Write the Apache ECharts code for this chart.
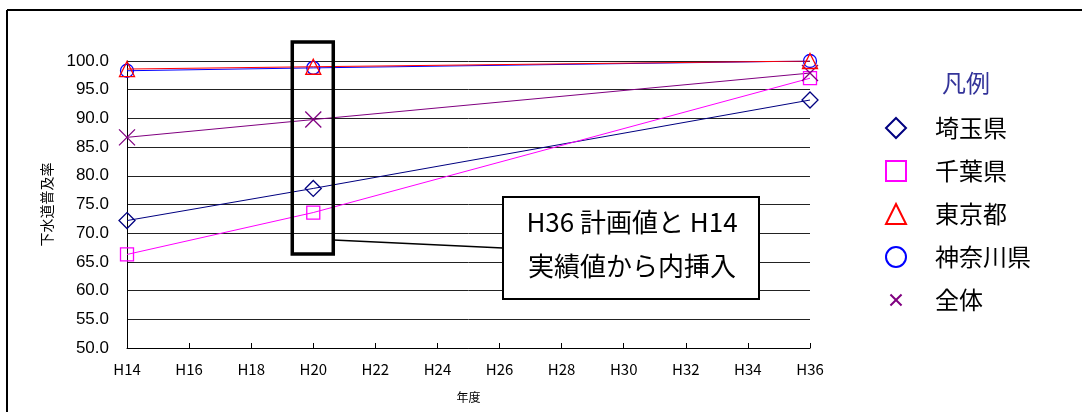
<!DOCTYPE html>
<html>
<head>
<meta charset="utf-8">
<script src="https://cdn.jsdelivr.net/npm/echarts@6/dist/echarts.min.js"></script>
<style>
  html, body { margin: 0; padding: 0; background: #fff; }
  #chart { width: 1082px; height: 412px; }
</style>
</head>
<body>
<div id="chart"></div>
<script>
// 年度 (平成) at which values are given
const years = [14, 20, 36];
// 下水道普及率 (%)
const saitama  = [72.2, 77.8, 93.2];
const chiba    = [66.3, 73.6, 97.0];
const tokyo    = [98.6, 99.0, 100.0];
const kanagawa = [98.3, 98.8, 100.0];
const zentai   = [86.7, 89.8, 97.9];
const seriesNames = ['埼玉県', '千葉県', '東京都', '神奈川県', '全体'];
const legendTitle = '凡例';
const noteLines = ['H36 計画値と H14', '実績値から内挿入'];

const pair = vals => years.map((y, i) => [y, vals[i]]);

const DIAMOND = 'path://M5,0L10,5L5,10L0,5Z';
const CROSS = 'path://M0,0L10,10M10,0L0,10';
const CROSS_SMALL = 'path://M-4,-4M14,14M0,0L10,10M10,0L0,10';

const styles = [
  { color: '#000080', symbol: DIAMOND,    size: 16, legendIcon: DIAMOND },
  { color: '#FF00FF', symbol: 'rect',     size: 13, legendIcon: 'rect' },
  { color: '#FF0000', symbol: 'triangle', size: 15, legendIcon: 'triangle' },
  { color: '#0000FF', symbol: 'circle',   size: 13, legendIcon: 'circle' },
  { color: '#800080', symbol: CROSS,      size: 16, legendIcon: CROSS_SMALL }
];
const values = [saitama, chiba, tokyo, kanagawa, zentai];

const chart = echarts.init(document.getElementById('chart'));

const series = seriesNames.map((name, i) => ({
  name,
  type: 'line',
  data: pair(values[i]),
  symbol: styles[i].symbol,
  symbolSize: styles[i].size,
  showAllSymbol: true,
  animation: false,
  lineStyle: { color: styles[i].color, width: 1 },
  itemStyle: { color: 'transparent', borderColor: styles[i].color, borderWidth: 1.3 },
  z: 3 + (i === 2 ? 1 : 0)
}));

chart.setOption({
  animation: false,
  backgroundColor: '#fff',
  grid: { left: 127, right: 272, top: 61, bottom: 64 },
  xAxis: {
    type: 'value',
    min: 14, max: 36, interval: 2,
    name: '年度',
    nameLocation: 'middle',
    nameGap: 43,
    nameTextStyle: { fontFamily: 'Noto Sans CJK JP', fontSize: 12, color: '#000' },
    axisLine: { lineStyle: { color: '#000', width: 1 } },
    axisTick: { inside: true, length: 5, lineStyle: { color: '#000' } },
    axisLabel: {
      formatter: v => 'H' + v,
      fontFamily: 'Noto Sans CJK JP', fontSize: 15, color: '#000', margin: 14
    },
    splitLine: { show: false }
  },
  yAxis: {
    type: 'value',
    min: 50, max: 100, interval: 5,
    name: '下水道普及率',
    nameLocation: 'middle',
    nameGap: 73,
    nameTextStyle: { fontFamily: 'Noto Sans CJK JP', fontSize: 14, color: '#000' },
    axisLine: { show: true, lineStyle: { color: '#000', width: 1 } },
    axisTick: { show: false },
    axisLabel: {
      formatter: v => v.toFixed(1),
      fontFamily: 'Liberation Sans', fontSize: 17, color: '#000', margin: 18
    },
    splitLine: { lineStyle: { color: '#222', width: 1 } }
  },
  legend: {
    orient: 'vertical',
    left: 880, top: 111,
    itemWidth: 20, itemHeight: 20,
    itemGap: 19,
    textStyle: { fontFamily: 'Noto Sans CJK JP', fontSize: 24, color: '#000', padding: [0, 0, 0, 24] },
    data: seriesNames.map((name, i) => ({
      name,
      icon: styles[i].legendIcon,
      itemStyle: { color: 'transparent', borderColor: styles[i].color, borderWidth: 2 }
    }))
  },
  series
});

// annotation: highlight box around H20, note box and connector
const xH20 = chart.convertToPixel({ gridIndex: 0 }, [20, 100])[0];
chart.setOption({
  graphic: [
    // outer frame (top and left edges)
    { type: 'line', shape: { x1: 7, y1: 10, x2: 1082, y2: 10 }, style: { stroke: '#000', lineWidth: 2 } },
    { type: 'line', shape: { x1: 7, y1: 10, x2: 7, y2: 412 }, style: { stroke: '#000', lineWidth: 2 } },
    // legend title
    { type: 'text', left: 942, top: 71,
      style: { text: legendTitle, fontFamily: 'Noto Sans CJK JP', fontSize: 24, fill: '#333399' } },
    // highlight rectangle
    { type: 'rect', z: 10,
      shape: { x: xH20 - 21, y: 42, width: 41, height: 212 },
      style: { fill: 'none', stroke: '#000', lineWidth: 3.5 } },
    // connector
    { type: 'line', z: 10,
      shape: { x1: xH20 + 20, y1: 240, x2: 503, y2: 248 },
      style: { stroke: '#000', lineWidth: 1.5 } },
    // note box
    { type: 'rect', z: 10,
      shape: { x: 503, y: 197, width: 256, height: 102 },
      style: { fill: '#fff', stroke: '#000', lineWidth: 2 } },
    { type: 'text', z: 11, x: 632, y: 222,
      style: { text: noteLines[0], fontFamily: 'Noto Sans CJK JP', fontSize: 26, fill: '#000',
               align: 'center', verticalAlign: 'middle' } },
    { type: 'text', z: 11, x: 632, y: 266,
      style: { text: noteLines[1], fontFamily: 'Noto Sans CJK JP', fontSize: 26, fill: '#000',
               align: 'center', verticalAlign: 'middle' } }
  ]
});
</script>
</body>
</html>
